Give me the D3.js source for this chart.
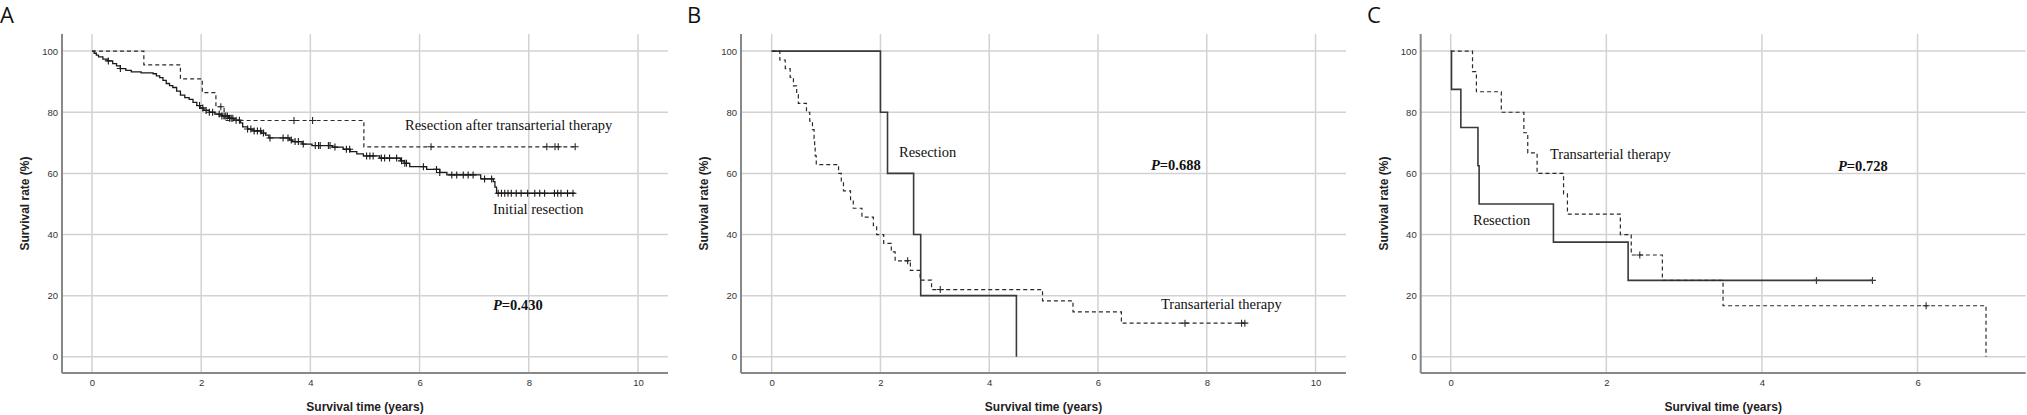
<!DOCTYPE html>
<meta charset="utf-8">
<script src="https://d3js.org/d3.v7.min.js"></script>
<style>
  body { margin: 0; background: #fff; }
  svg { display: block; }
</style>
<div id="chart"></div>
<script>

var width = 2027, height = 415;

// ---------------- data ----------------

// A: initial resection, [years, survival %] at each drop
var initialSteps = [
  [0,100],[0.04,99.3],[0.08,98.7],[0.12,98.1],[0.2,97.4],[0.28,96.8],[0.38,95.9],[0.45,95.2],
  [0.52,94.3],[0.62,93.7],[0.72,93.2],[0.9,92.9],[1.12,92.6],[1.18,91.9],[1.24,91.3],[1.3,90.4],
  [1.36,89.4],[1.42,88.7],[1.48,88.1],[1.55,86.9],[1.62,85.6],[1.7,84.8],[1.78,84.2],[1.85,83.2],
  [1.92,82.2],[1.98,81.4],[2.05,80.6],[2.15,80.0],[2.25,79.4],[2.38,78.8],[2.5,78.0],[2.6,77.4],
  [2.72,76.5],[2.76,75.2],[2.85,74.5],[2.95,73.9],[3.1,73.2],[3.18,72.5],[3.24,71.6],[3.62,70.9],
  [3.67,70.4],[3.85,69.6],[4.03,69.1],[4.4,68.6],[4.6,67.9],[4.73,67.1],[4.85,66.4],[4.97,65.7],
  [5.27,65.0],[5.65,64.1],[5.72,63.3],[5.82,62.2],[6.13,61.3],[6.37,60.3],[6.5,59.5],[7.12,58.2],
  [7.35,57.3],[7.38,55.5],[7.41,53.5],[8.85,53.5]
];
var initialCensor = [0.3,0.52,1.97,2.03,2.09,2.15,2.21,2.33,2.38,2.42,2.45,2.48,2.52,2.55,2.58,2.64,
  2.7,2.85,2.91,2.97,3.03,3.09,3.14,3.26,3.5,3.59,3.65,3.72,3.78,3.87,4.09,4.15,4.18,4.33,4.36,4.45,
  4.66,4.72,5.03,5.09,5.15,5.3,5.36,5.45,5.58,5.67,5.73,5.76,6.07,6.31,6.37,6.59,6.68,6.8,6.89,6.98,
  7.19,7.32,7.44,7.5,7.56,7.62,7.68,7.77,7.86,7.98,8.11,8.2,8.29,8.47,8.53,8.59,8.71,8.81];

// A: resection after transarterial therapy
var afterTaSteps = [[0,100],[0.95,95.5],[1.62,90.9],[2.02,86.4],[2.27,81.8],[2.42,77.3],[4.98,68.7],[8.85,68.7]];
var afterTaCensor = [2.36,3.7,4.04,6.21,8.33,8.48,8.54,8.85];

// B: resection
var bResSteps = [[0,100],[2.0,80],[2.13,60],[2.61,40],[2.74,20],[4.5,0]];
var bResCensor = [];

// B: transarterial therapy
var bTaSteps = [
  [0,100],[0.15,97.1],[0.25,94.3],[0.34,91.4],[0.4,88.6],[0.46,85.7],[0.49,82.9],[0.64,80],
  [0.7,77.1],[0.75,74.3],[0.78,71.4],[0.79,68.6],[0.8,65.7],[0.82,62.9],[1.23,60],[1.28,57.1],
  [1.32,54.3],[1.45,51.4],[1.5,48.6],[1.66,45.7],[1.87,42.9],[1.93,40],[2.06,37.1],[2.2,34.3],
  [2.27,31.4],[2.55,28.3],[2.73,25.1],[2.94,22.0],[4.98,18.3],[5.54,14.7],[6.43,11.0],[8.72,11.0]
];
var bTaCensor = [2.5,3.1,7.6,8.64,8.7];

// C: resection
var cResSteps = [[0,100],[0.01,87.5],[0.13,75],[0.35,62.5],[0.365,50],[1.32,37.5],[2.28,25],[5.42,25]];
var cResCensor = [4.7,5.42];

// C: transarterial therapy
var cTaSteps = [[0,100],[0.28,93.3],[0.33,86.7],[0.65,80],[0.94,73.3],[0.99,66.7],[1.11,60],[1.45,53.3],
  [1.5,46.7],[2.18,40],[2.32,33.3],[2.72,25],[3.5,16.7],[6.88,0]];
var cTaCensor = [2.43,6.11];

var yTicks = [0,20,40,60,80,100];
var xTicksLong = [0,2,4,6,8,10];
var xTicksShort = [0,2,4,6];

// ---------------- layout ----------------

var svg = d3.select("#chart").append("svg")
  .attr("width", width)
  .attr("height", height);

var plotTop = 34, plotBottom = 373;

var panels = [
  { letter:"A", lx:0, left:62, right:668, xdom:[-0.549,10.55], ticks:xTicksLong,
    series:[
      {steps:initialSteps, censor:initialCensor, dash:null, color:"#1a1a1a", w:1.3},
      {steps:afterTaSteps, censor:afterTaCensor, dash:"4,3", color:"#2a2a2a", w:1.2}
    ],
    notes:[
      {t:"Resection after transarterial therapy", x:405, y:130},
      {t:"Initial resection", x:493, y:214}
    ],
    p:{v:"0.430", x:493, y:310} },
  { letter:"B", lx:687, left:741, right:1346, xdom:[-0.564,10.56], ticks:xTicksLong,
    series:[
      {steps:bResSteps, censor:bResCensor, dash:null, color:"#3a3a3a", w:1.6},
      {steps:bTaSteps, censor:bTaCensor, dash:"4,3", color:"#2a2a2a", w:1.2}
    ],
    notes:[
      {t:"Resection", x:899, y:157},
      {t:"Transarterial therapy", x:1161, y:309}
    ],
    p:{v:"0.688", x:1151, y:170} },
  { letter:"C", lx:1367, left:1420.7, right:2025.7, xdom:[-0.386,7.39], ticks:xTicksShort,
    series:[
      {steps:cResSteps, censor:cResCensor, dash:null, color:"#3a3a3a", w:1.6},
      {steps:cTaSteps, censor:cTaCensor, dash:"4,3", color:"#2a2a2a", w:1.2}
    ],
    notes:[
      {t:"Transarterial therapy", x:1550, y:159},
      {t:"Resection", x:1473, y:225}
    ],
    p:{v:"0.728", x:1838, y:171} }
];

var y = d3.scaleLinear().domain([-5.3,105.6]).range([plotBottom, plotTop]);

// survival value at time t of a step list
function survAt(steps, t) {
  var s = steps[0][1];
  for (var i = 0; i < steps.length; i++) {
    if (steps[i][0] <= t) s = steps[i][1];
  }
  return s;
}

panels.forEach(function(p) {
  var x = d3.scaleLinear().domain(p.xdom).range([p.left, p.right]);
  var g = svg.append("g");

  // panel letter
  svg.append("text")
    .attr("x", p.lx).attr("y", 23)
    .style("font-family", "'Open Sans', 'Noto Sans', sans-serif")
    .style("font-size", "22px")
    .style("fill", "#111")
    .text(p.letter);

  // grid
  g.selectAll(".hg").data(yTicks).join("line")
    .attr("class", "hg")
    .attr("x1", p.left).attr("x2", p.right)
    .attr("y1", function(d){ return y(d); }).attr("y2", function(d){ return y(d); })
    .style("stroke", "#d2d2d2").style("stroke-width", 1.5);

  g.selectAll(".vg").data(p.ticks).join("line")
    .attr("class", "vg")
    .attr("x1", function(d){ return x(d); }).attr("x2", function(d){ return x(d); })
    .attr("y1", plotTop).attr("y2", plotBottom)
    .style("stroke", "#d2d2d2").style("stroke-width", 1.5);

  // axes
  var xa = g.append("g").attr("transform", "translate(0," + plotBottom + ")")
    .call(d3.axisBottom(x).tickValues(p.ticks).tickSize(0).tickPadding(6));
  var ya = g.append("g").attr("transform", "translate(" + p.left + ",0)")
    .call(d3.axisLeft(y).tickValues(yTicks).tickSize(0).tickPadding(4));
  [xa, ya].forEach(function(a) {
    a.select(".domain").remove();
    a.selectAll("text")
      .style("font-family", "'Liberation Sans', Arial, sans-serif")
      .style("font-size", "9.5px")
      .style("fill", "#333");
  });
  g.append("line")
    .attr("x1", p.left).attr("x2", p.right).attr("y1", plotBottom).attr("y2", plotBottom)
    .style("stroke", "#888").style("stroke-width", 2);
  g.append("line")
    .attr("x1", p.left).attr("x2", p.left).attr("y1", plotTop).attr("y2", plotBottom)
    .style("stroke", "#888").style("stroke-width", 2);

  // axis titles
  g.append("text")
    .attr("transform", "translate(" + (p.left - 37) + "," + ((plotTop + plotBottom) / 2) + ") rotate(-90)")
    .attr("text-anchor", "middle")
    .attr("dominant-baseline", "central")
    .style("font-family", "'Liberation Sans', Arial, sans-serif")
    .style("font-weight", "bold")
    .style("font-size", "12px")
    .style("fill", "#222")
    .text("Survival rate (%)");

  g.append("text")
    .attr("x", (p.left + p.right) / 2).attr("y", 411)
    .attr("text-anchor", "middle")
    .style("font-family", "'Liberation Sans', Arial, sans-serif")
    .style("font-weight", "bold")
    .style("font-size", "12px")
    .style("fill", "#222")
    .text("Survival time (years)");

  // curves
  var line = d3.line()
    .x(function(d){ return x(d[0]); })
    .y(function(d){ return y(d[1]); })
    .curve(d3.curveStepAfter);

  p.series.forEach(function(s) {
    g.append("path")
      .datum(s.steps)
      .attr("d", line)
      .style("fill", "none")
      .style("stroke", s.color)
      .style("stroke-width", s.w)
      .style("stroke-dasharray", s.dash);

    // censor marks drawn as small "+"
    g.selectAll(null).data(s.censor).join("path")
      .attr("d", function(d) {
        var cx = x(d), cy = y(survAt(s.steps, d));
        return "M" + cx + "," + (cy - 3.5) + "V" + (cy + 3.5) +
               "M" + (cx - 3.5) + "," + cy + "H" + (cx + 3.5);
      })
      .style("fill", "none")
      .style("stroke", s.color)
      .style("stroke-width", 1.1);
  });

  // annotations
  p.notes.forEach(function(n) {
    g.append("text")
      .attr("x", n.x).attr("y", n.y)
      .style("font-family", "'Liberation Serif', 'Times New Roman', serif")
      .style("font-size", "14.5px")
      .style("fill", "#111")
      .text(n.t);
  });

  var pt = g.append("text")
    .attr("x", p.p.x).attr("y", p.p.y)
    .style("font-family", "'Liberation Serif', 'Times New Roman', serif")
    .style("font-size", "14.5px")
    .style("font-weight", "bold")
    .style("fill", "#111");
  pt.append("tspan").style("font-style", "italic").text("P");
  pt.append("tspan").text("=" + p.p.v);
});

</script>
